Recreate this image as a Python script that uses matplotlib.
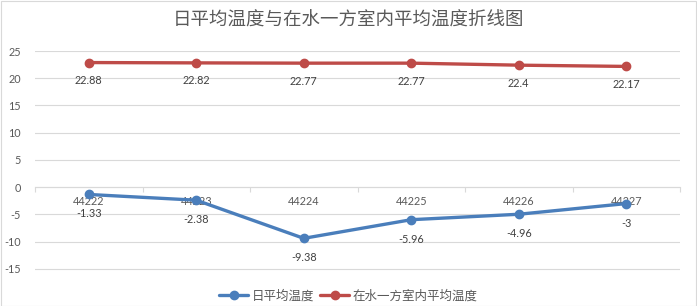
import matplotlib
matplotlib.use("Agg")
import matplotlib.pyplot as plt
from matplotlib.patches import Rectangle

plt.rcParams['font.family'] = ['Lato', 'Noto Sans CJK SC', 'DejaVu Sans']

categories = ["44222", "44223", "44224", "44225", "44226", "44227"]
daily_avg = [-1.33, -2.38, -9.38, -5.96, -4.96, -3]
indoor_avg = [22.88, 22.82, 22.77, 22.77, 22.4, 22.17]
series_names = ["日平均温度", "在水一方室内平均温度"]
title = "日平均温度与在水一方室内平均温度折线图"
yticks = [-15, -10, -5, 0, 5, 10, 15, 20, 25]

W, H = 697, 306
fig = plt.figure(figsize=(W / 100, H / 100), dpi=100)
fig.patches.append(Rectangle((0.5 / W, 0.5 / H), 1 - 1.5 / W, 1 - 1.5 / H, transform=fig.transFigure,
                             fill=False, edgecolor="#D9D9D9", linewidth=0.8))

left, right = 35 / W, 680 / W
top_px, bot_px = 51, 285.3
ax = fig.add_axes([left, 1 - bot_px / H, right - left, (bot_px - top_px) / H])

x = list(range(len(categories)))
blue = "#4A7EBB"
red = "#BE4B48"
l1, = ax.plot(x, daily_avg, color=blue, lw=2.4, marker="o", ms=6, label=series_names[0], zorder=3,
              solid_capstyle="round")
l2, = ax.plot(x, indoor_avg, color=red, lw=2.4, marker="o", ms=6, label=series_names[1], zorder=3,
              solid_capstyle="round")

for xi, v in zip(x, daily_avg):
    ax.annotate(f"{v:g}", (xi, v), xytext=(0, -14), textcoords="offset points", ha="center", va="center",
                fontsize=7.8, color="#404040")
for xi, v in zip(x, indoor_avg):
    ax.annotate(f"{v:g}", (xi, v), xytext=(0, -13), textcoords="offset points", ha="center", va="center",
                fontsize=7.8, color="#404040")

ax.set_xlim(-0.5, len(categories) - 0.5)
ax.set_ylim(-18, 25)
ax.set_yticks(yticks)
ax.set_yticklabels([str(t) for t in yticks])
ax.yaxis.grid(True, color="#D9D9D9", lw=0.8)
ax.set_axisbelow(True)
ax.tick_params(axis="y", length=0, labelsize=7.8, labelcolor="#595959", pad=10)

for s in ["top", "right", "left"]:
    ax.spines[s].set_visible(False)
ax.spines["bottom"].set_position(("data", 0))
ax.spines["bottom"].set_color("#D9D9D9")
ax.spines["bottom"].set_linewidth(0.8)
ax.set_xticks(x)
ax.set_xticklabels(categories)
ax.set_xticks([i - 0.5 for i in range(len(categories) + 1)], minor=True)
ax.tick_params(axis="x", which="major", length=0, labelsize=7.8, labelcolor="#595959", pad=6)
ax.tick_params(axis="x", which="minor", length=3.5, color="#D9D9D9", width=0.8)

fig.text(0.5, 1 - 20 / H, title, ha="center", va="center", fontsize=13.3, color="#595959",
         fontweight="light")
fig.legend(handles=[l1, l2], loc="center", bbox_to_anchor=(0.5, 1 - 295 / H), ncol=2, frameon=False,
           fontsize=9, labelcolor="#595959", handlelength=2.3, columnspacing=0.5, handletextpad=0.3,
           borderaxespad=0)

fig.savefig("out.png", dpi=100)
